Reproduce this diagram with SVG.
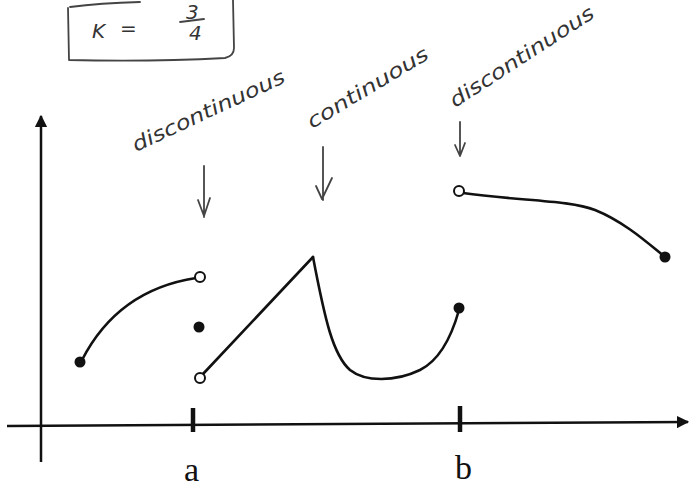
<svg xmlns="http://www.w3.org/2000/svg" width="692" height="487" viewBox="0 0 692 487">
<style>
.axis{stroke:#111;stroke-width:2.5;fill:none}
.curve{stroke:#111;stroke-width:2.6;fill:none;stroke-linecap:round}
.open{fill:#fff;stroke:#111;stroke-width:2}
.dot{fill:#111}
.hand{font-family:"DejaVu Sans",sans-serif;font-style:italic;fill:#333;font-size:20px}
.pen{stroke:#444;stroke-width:1.8;fill:none;stroke-linecap:round;stroke-linejoin:round}
.lbl{font-family:"Liberation Serif",serif;font-size:34px;fill:#111}
</style>
<defs>
<marker id="ah" viewBox="0 0 10 10" refX="9" refY="5" markerWidth="5" markerHeight="5" orient="auto-start-reverse">
<path d="M0,0 L10,5 L0,10 Z" fill="#111"/>
</marker>
</defs>
<rect width="692" height="487" fill="#fff"/>
<g id="note-box">
<path class="pen" d="M68 8 L69 60 Q150 62 225 58 Q234 56 234 48 L233 0"/>
<path class="pen" d="M70 7 Q100 3 140 2"/>
<text class="hand" x="92" y="38" font-size="26" font-style="normal">K</text>
<text class="hand" x="120" y="35" font-size="24" font-style="normal">=</text>
<text class="hand" x="186" y="19" font-size="14" font-style="normal">3</text>
<path class="pen" d="M180 22 L204 19"/>
<text class="hand" x="189" y="40" font-size="16" font-style="normal">4</text>
</g>
<g id="connectors">
<path class="axis" d="M41 462 L41 116" marker-end="url(#ah)"/>
<path class="axis" d="M7 426 L688 422" marker-end="url(#ah)"/>
<path d="M193 408 L193 432" stroke="#111" stroke-width="4.5"/>
<path d="M460 406 L460 432" stroke="#111" stroke-width="4.5"/>
<path class="pen" d="M204 166 L204 217 M198 200 L204 216 L210 198"/>
<path class="pen" d="M323 147 L323 200 M316 186 L322 199 L332 178"/>
<path class="pen" d="M460 122 L460 156 M455 145 L460 156 L465 143"/>
</g>
<g id="labels">
<text class="hand" transform="translate(136,152) rotate(-25)" textLength="166" lengthAdjust="spacingAndGlyphs">discontinuous</text>
<text class="hand" transform="translate(312,129) rotate(-31)" textLength="138" lengthAdjust="spacingAndGlyphs">continuous</text>
<text class="hand" transform="translate(455,108) rotate(-33)" textLength="168" lengthAdjust="spacingAndGlyphs">discontinuous</text>
<text class="lbl" x="184" y="481">a</text>
<text class="lbl" x="455" y="479">b</text>
</g>
<g id="graph">
<path class="curve" d="M82 360 Q118 290 196 278"/>
<path class="curve" d="M203 374 L313 257"/>
<path class="curve" d="M313 257 C325 320 333 355 350 370 C365 382 395 382 420 370 C440 360 452 335 459 310"/>
<path class="curve" d="M463 193 C520 201 570 200 595 210 C625 222 650 245 665 257"/>
<circle class="dot" cx="80" cy="362" r="5.5"/>
<circle class="open" cx="200" cy="277" r="5"/>
<circle class="dot" cx="199" cy="327" r="5.5"/>
<circle class="open" cx="200" cy="378" r="5"/>
<circle class="dot" cx="459" cy="308" r="5.5"/>
<circle class="open" cx="459" cy="191" r="5"/>
<circle class="dot" cx="665" cy="257" r="5.5"/>
</g>
</svg>
